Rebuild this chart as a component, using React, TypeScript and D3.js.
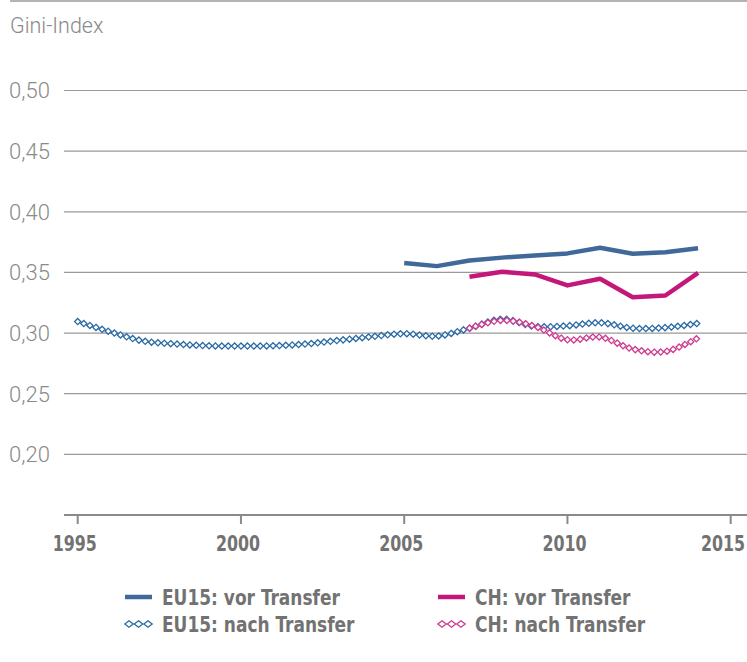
import React, { useEffect, useRef } from "react";
import * as d3 from "d3";

// Gini-Index EU15 vs. CH, vor/nach Transfer
const yearsEU15Nach = [1995, 1996, 1997, 1998, 1999, 2000, 2001, 2002, 2003, 2004, 2005, 2006, 2007, 2008, 2009, 2010, 2011, 2012, 2013, 2014];
const eu15Nach = [0.3095, 0.301, 0.2935, 0.291, 0.2895, 0.2893, 0.2895, 0.291, 0.294, 0.297, 0.2995, 0.2975, 0.304, 0.3115, 0.3055, 0.306, 0.3085, 0.304, 0.3045, 0.308];
const yearsEU15Vor = [2005, 2006, 2007, 2008, 2009, 2010, 2011, 2012, 2013, 2014];
const eu15Vor = [0.3578, 0.3552, 0.3599, 0.3622, 0.364, 0.3657, 0.3704, 0.3654, 0.3667, 0.37];
const yearsCH = [2007, 2008, 2009, 2010, 2011, 2012, 2013, 2014];
const chVor = [0.3464, 0.3506, 0.3483, 0.3393, 0.3448, 0.3296, 0.331, 0.3497];
const chNach = [0.304, 0.3105, 0.3055, 0.2945, 0.2967, 0.2868, 0.2848, 0.296];
const yTicks = [0.2, 0.25, 0.3, 0.35, 0.4, 0.45, 0.5];
const xTicks = [1995, 2000, 2005, 2010, 2015];
const legendItems = [
  { label: "EU15: vor Transfer", color: "#40699a", kind: "line" },
  { label: "CH: vor Transfer", color: "#c4177a", kind: "line" },
  { label: "EU15: nach Transfer", color: "#2a6aa3", kind: "diamond" },
  { label: "CH: nach Transfer", color: "#cf3a8f", kind: "diamond" },
];

const W = 747;
const H = 662;
const grey = "#9a9a9a";
const labelFont = "'DejaVu Sans Condensed', 'DejaVu Sans', sans-serif";

const App = () => {
  const ref = useRef<SVGSVGElement>(null);

  useEffect(() => {
    const svg = d3.select(ref.current);
    svg.selectAll("*").remove();

    const x = d3.scaleLinear().domain([1995, 2015]).range([77.7, 730.7]);
    const y = d3.scaleLinear().domain([0.15, 0.5]).range([515, 90.5]);
    const fmt = (v: number) => v.toFixed(2).replace(".", ",");

    // top rule
    svg.append("line").attr("x1", 10).attr("x2", W).attr("y1", 1).attr("y2", 1)
      .attr("stroke", grey).attr("stroke-width", 1.5);

    svg.append("text").attr("x", 10).attr("y", 33).text("Gini-Index")
      .attr("font-family", "Roboto, sans-serif").attr("font-weight", 300)
      .attr("font-size", 21.5).attr("fill", "#8a8a8a");

    // grid
    const grid = svg.append("g");
    grid.selectAll("line").data(yTicks).enter().append("line")
      .attr("x1", 64).attr("x2", W)
      .attr("y1", (d) => y(d)).attr("y2", (d) => y(d))
      .attr("stroke", grey).attr("stroke-width", 1.2);
    grid.selectAll("text").data(yTicks).enter().append("text")
      .attr("x", 9).attr("y", (d) => y(d)).attr("dy", "0.36em")
      .text((d) => fmt(d))
      .attr("font-family", "Roboto, sans-serif").attr("font-weight", 300)
      .attr("font-size", 22).attr("fill", "#8a8a8a");

    // x axis
    svg.append("line").attr("x1", 64).attr("x2", W).attr("y1", y(0.15)).attr("y2", y(0.15))
      .attr("stroke", "#8a8a8a").attr("stroke-width", 2);
    const xa = svg.append("g");
    xa.selectAll("line").data(xTicks).enter().append("line")
      .attr("x1", (d) => x(d)).attr("x2", (d) => x(d))
      .attr("y1", y(0.15)).attr("y2", y(0.15) + 9)
      .attr("stroke", "#8a8a8a").attr("stroke-width", 2);
    xa.selectAll("text").data(xTicks).enter().append("text")
      .attr("transform", (d) => `translate(${d === 2015 ? W - 2 : x(d) - 3},551) scale(0.8,1)`)
      .attr("text-anchor", (d) => (d === 2015 ? "end" : "middle"))
      .text((d) => String(d))
      .attr("font-family", labelFont).attr("font-weight", 700)
      .attr("font-size", 22).attr("fill", "#727272");

    const line = d3.line<[number, number]>().x((d) => x(d[0])).y((d) => y(d[1]));
    const smooth = d3.line<[number, number]>().x((d) => x(d[0])).y((d) => y(d[1]))
      .curve(d3.curveCatmullRom.alpha(0.5));

    const solid = (years: number[], vals: number[], color: string) => {
      svg.append("path").datum(d3.zip(years, vals) as [number, number][])
        .attr("d", line).attr("fill", "none").attr("stroke", color)
        .attr("stroke-width", 4.5).attr("stroke-linejoin", "round");
    };

    const diamondPath = (cx: number, cy: number, rx: number, ry: number) =>
      `M${cx},${cy - ry}L${cx + rx},${cy}L${cx},${cy + ry}L${cx - rx},${cy}Z`;

    const dotted = (years: number[], vals: number[], color: string) => {
      const p = svg.append("path").datum(d3.zip(years, vals) as [number, number][])
        .attr("d", smooth).attr("fill", "none").attr("stroke", "none");
      const node = p.node() as SVGPathElement;
      const len = node.getTotalLength();
      const step = 6.4;
      const pts: DOMPoint[] = [];
      for (let s = 0; s <= len + 0.01; s += step) pts.push(node.getPointAtLength(Math.min(s, len)));
      svg.append("g").selectAll("path").data(pts).enter().append("path")
        .attr("d", (d) => diamondPath(d.x, d.y, 3.1, 3.1))
        .attr("fill", "white").attr("stroke", color).attr("stroke-width", 1.3);
    };

    dotted(yearsEU15Nach, eu15Nach, "#2a6aa3");
    dotted(yearsCH, chNach, "#cf3a8f");
    solid(yearsEU15Vor, eu15Vor, "#40699a");
    solid(yearsCH, chVor, "#c4177a");

    // legend
    const lg = svg.append("g");
    legendItems.forEach((it, i) => {
      const lx = i % 2 === 0 ? 125 : 438;
      const ly = i < 2 ? 597 : 624;
      if (it.kind === "line") {
        lg.append("line").attr("x1", lx).attr("x2", lx + 27).attr("y1", ly).attr("y2", ly)
          .attr("stroke", it.color).attr("stroke-width", 4.5);
      } else {
        [0, 1, 2].forEach((k) => {
          lg.append("path").attr("d", diamondPath(lx + 4 + k * 9.5, ly, 4.2, 3.2))
            .attr("fill", "white").attr("stroke", it.color).attr("stroke-width", 1.3);
        });
      }
      lg.append("text").attr("transform", `translate(${lx + 37},${ly + 8}) scale(0.86,1)`)
        .text(it.label)
        .attr("font-family", labelFont).attr("font-weight", 700)
        .attr("font-size", 22).attr("fill", "#727272");
    });
  }, []);

  return (
    <div style={{ position: "absolute", left: 0, top: 0 }}>
      <svg ref={ref} width={W} height={H} style={{ display: "block", background: "white" }} />
    </div>
  );
};

export default App;
